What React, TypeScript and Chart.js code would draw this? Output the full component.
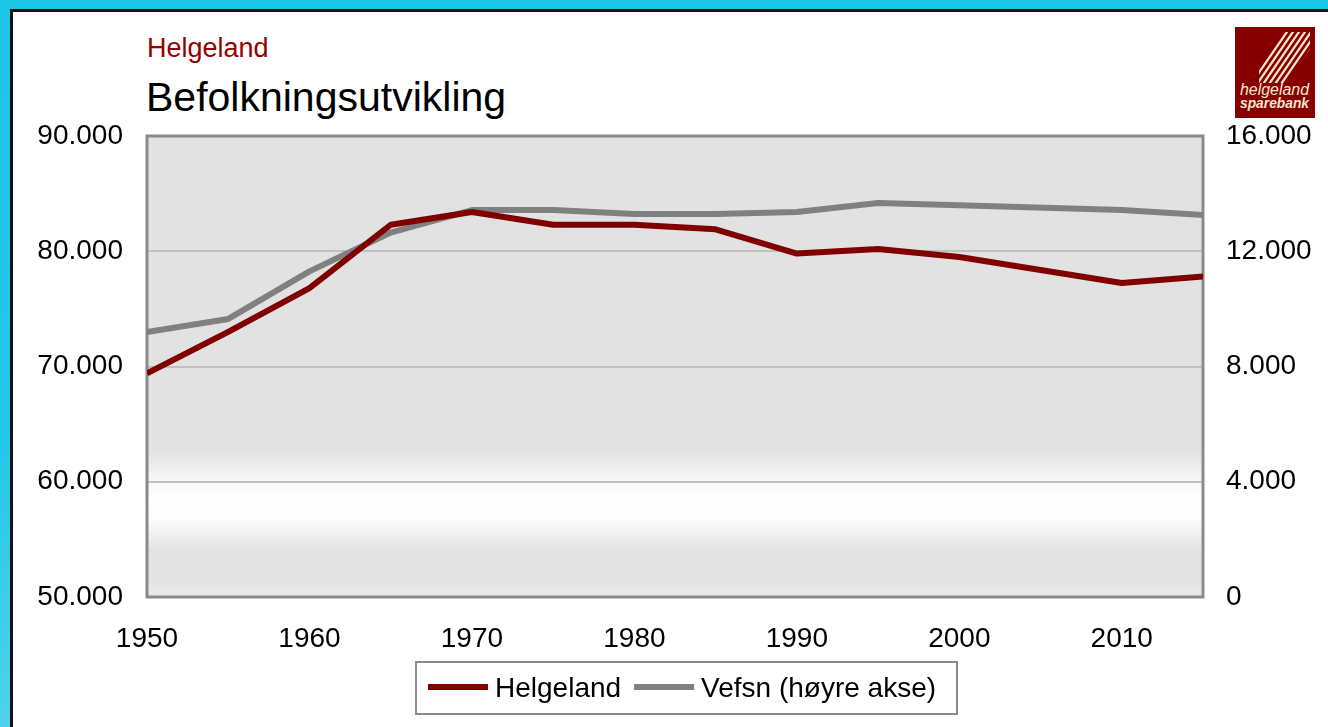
import React, { useEffect, useRef } from "react";
import { Chart, registerables } from "chart.js";

Chart.register(...registerables);

const years = [1950, 1955, 1960, 1965, 1970, 1975, 1980, 1985, 1990, 1995, 2000, 2010, 2015];
const helgeland = [69400, 73000, 76800, 82300, 83400, 82300, 82300, 81900, 79800, 80200, 79500, 77250, 77800];
const vefsn = [9200, 9650, 11300, 12650, 13430, 13430, 13290, 13290, 13360, 13675, 13600, 13430, 13260];
const leftTicks = [50000, 60000, 70000, 80000, 90000];
const rightTicks = [0, 4000, 8000, 12000, 16000];
const xTicks = [1950, 1960, 1970, 1980, 1990, 2000, 2010];
const seriesLabels = ["Helgeland", "Vefsn (høyre akse)"];
const seriesColors = ["#800000", "#808080"];
const subTitle = "Helgeland";
const mainTitle = "Befolkningsutvikling";

const FONT = '"Liberation Sans", Arial, sans-serif';

const fmt = (v: number) => String(v).replace(/\B(?=(\d{3})+(?!\d))/g, ".");

const bgPlugin = {
  id: "plotBg",
  beforeDraw(chart: any) {
    const { ctx, chartArea: a } = chart;
    if (!a) return;
    const g = ctx.createLinearGradient(0, a.top, 0, a.bottom);
    g.addColorStop(0, "#e2e2e2");
    g.addColorStop(0.68, "#e2e2e2");
    g.addColorStop(0.745, "#f6f6f6");
    g.addColorStop(0.79, "#ffffff");
    g.addColorStop(0.83, "#fdfdfd");
    g.addColorStop(0.9, "#e3e3e3");
    g.addColorStop(0.96, "#e3e3e3");
    g.addColorStop(1, "#eaeaea");
    ctx.save();
    ctx.fillStyle = g;
    ctx.fillRect(a.left, a.top, a.right - a.left, a.bottom - a.top);
    ctx.restore();
  },
};

const framePlugin = {
  id: "plotFrame",
  beforeDatasetsDraw(chart: any) {
    const { ctx, chartArea: a } = chart;
    ctx.save();
    ctx.strokeStyle = "#8a8a8a";
    ctx.lineWidth = 3;
    ctx.strokeRect(a.left, a.top, a.right - a.left, a.bottom - a.top);
    ctx.restore();
  },
};

const legendPlugin = {
  id: "boxLegend",
  afterDraw(chart: any) {
    const ctx = chart.ctx;
    ctx.save();
    ctx.strokeStyle = "#8c8c8c";
    ctx.lineWidth = 2;
    ctx.strokeRect(416, 662, 541, 52);
    ctx.font = `28px ${FONT}`;
    ctx.textBaseline = "alphabetic";
    ctx.textAlign = "left";
    let x = 428;
    chart.data.datasets.forEach((ds: any) => {
      ctx.fillStyle = ds.borderColor;
      ctx.fillRect(x, 684, 60, 6);
      x += 67;
      ctx.fillStyle = "#000";
      ctx.fillText(ds.label, x, 697);
      x += ctx.measureText(ds.label).width + 13;
    });
    ctx.restore();
  },
};

function App() {
  const ref = useRef<HTMLCanvasElement | null>(null);

  useEffect(() => {
    if (!ref.current) return;
    const tickFont = { family: FONT, size: 28 };
    const chart = new Chart(ref.current, {
      type: "line",
      data: {
        datasets: [
          {
            label: seriesLabels[0],
            data: years.map((y, i) => ({ x: y, y: helgeland[i] })),
            borderColor: seriesColors[0],
            backgroundColor: seriesColors[0],
            borderWidth: 6,
            pointRadius: 0,
            tension: 0,
            borderJoinStyle: "round",
            yAxisID: "y",
          },
          {
            label: seriesLabels[1],
            data: years.map((y, i) => ({ x: y, y: vefsn[i] })),
            borderColor: seriesColors[1],
            backgroundColor: seriesColors[1],
            borderWidth: 6,
            pointRadius: 0,
            tension: 0,
            borderJoinStyle: "round",
            yAxisID: "y1",
          },
        ],
      },
      options: {
        animation: false,
        responsive: false,
        devicePixelRatio: 1,
        layout: { padding: { top: 136, left: 0, right: 0, bottom: 0 } },
        plugins: {
          legend: { display: false },
          tooltip: { enabled: false },
          title: { display: false },
        },
        scales: {
          x: {
            type: "linear",
            min: 1950,
            max: 2015,
            afterBuildTicks: (s: any) => {
              s.ticks = xTicks.map((v) => ({ value: v }));
            },
            afterFit: (s: any) => {
              s.height = 130;
            },
            grid: { display: false, drawTicks: false },
            border: { display: false },
            ticks: {
              padding: 25,
              color: "#000",
              font: tickFont,
              maxRotation: 0,
              autoSkip: false,
              callback: (v: any) => String(v),
            },
          },
          y: {
            type: "linear",
            position: "left",
            min: 50000,
            max: 90000,
            afterBuildTicks: (s: any) => {
              s.ticks = leftTicks.map((v) => ({ value: v }));
            },
            afterFit: (s: any) => {
              s.width = 147;
            },
            grid: { color: "#c0c0c0", lineWidth: 2, drawTicks: false },
            border: { display: false },
            ticks: {
              padding: 24,
              color: "#000",
              font: tickFont,
              callback: (v: any) => fmt(Number(v)),
            },
          },
          y1: {
            type: "linear",
            position: "right",
            min: 0,
            max: 16000,
            afterBuildTicks: (s: any) => {
              s.ticks = rightTicks.map((v) => ({ value: v }));
            },
            afterFit: (s: any) => {
              s.width = 125;
            },
            grid: { display: false, drawTicks: false },
            border: { display: false },
            ticks: {
              padding: 23,
              color: "#000",
              font: tickFont,
              callback: (v: any) => fmt(Number(v)),
            },
          },
        },
      } as any,
      plugins: [bgPlugin, framePlugin, legendPlugin],
    });
    return () => chart.destroy();
  }, []);

  const stripes = [0, 1, 2, 3, 4, 5, 6];

  return (
    <div
      style={{
        position: "fixed",
        left: 0,
        top: 0,
        width: 1328,
        height: 727,
        overflow: "hidden",
        background: "linear-gradient(180deg, #1cc6e8 0%, #22c8e8 60%, #4fd2ea 100%)",
        fontFamily: FONT,
      }}
    >
      <div
        style={{
          position: "absolute",
          left: 10,
          top: 9,
          width: 1340,
          height: 740,
          background: "#ffffff",
          border: "3px solid #111",
          boxSizing: "border-box",
        }}
      />
      <div
        style={{
          position: "absolute",
          left: 147,
          top: 35,
          fontSize: 27,
          lineHeight: "27px",
          color: "#950000",
          whiteSpace: "nowrap",
        }}
      >
        {subTitle}
      </div>
      <div
        style={{
          position: "absolute",
          left: 146,
          top: 77,
          fontSize: 41,
          lineHeight: "41px",
          color: "#000",
          whiteSpace: "nowrap",
        }}
      >
        {mainTitle}
      </div>
      <svg
        width={80}
        height={91}
        viewBox="0 0 80 91"
        style={{ position: "absolute", left: 1235, top: 27 }}
      >
        <defs>
          <clipPath id="logoClip">
            <polygon points="47,5 75,5 75,22 50,56 24,56 24,40" />
          </clipPath>
        </defs>
        <rect x={0} y={0} width={80} height={91} fill="#870000" />
        <g clipPath="url(#logoClip)" stroke="#f6e7cc" strokeWidth={2.2}>
          {stripes.map((i) => (
            <line key={i} x1={14 + i * 6} y1={60} x2={54 + i * 6} y2={2} />
          ))}
        </g>
        <text
          x={5}
          y={68}
          fill="#f6e7cc"
          fontSize={16}
          fontStyle="italic"
          fontFamily={FONT}
          textLength={69}
          lengthAdjust="spacingAndGlyphs"
        >
          helgeland
        </text>
        <text
          x={5}
          y={81}
          fill="#f6e7cc"
          fontSize={14}
          fontStyle="italic"
          fontWeight="bold"
          fontFamily={FONT}
          textLength={69}
          lengthAdjust="spacingAndGlyphs"
        >
          sparebank
        </text>
      </svg>
      <canvas
        ref={ref}
        width={1328}
        height={727}
        style={{ position: "absolute", left: 0, top: 0, width: 1328, height: 727 }}
      />
    </div>
  );
}

export default App;
